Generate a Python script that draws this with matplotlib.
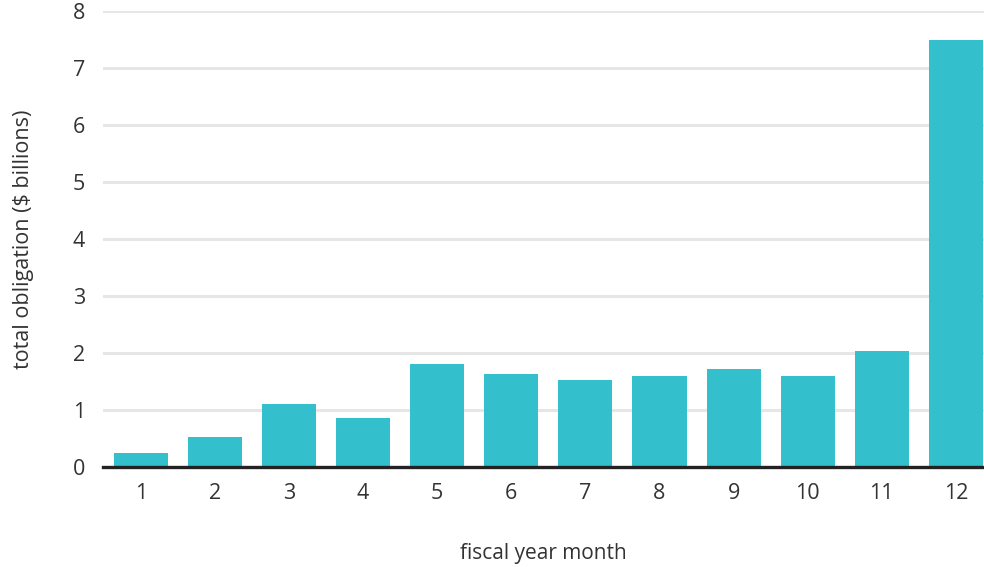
import matplotlib
matplotlib.use('Agg')
from matplotlib import pyplot as plt

months = [1, 2, 3, 4, 5, 6, 7, 8, 9, 10, 11, 12]
obligation = [0.24, 0.52, 1.10, 0.86, 1.80, 1.62, 1.52, 1.60, 1.71, 1.60, 2.03, 7.50]
y_ticks = [0, 1, 2, 3, 4, 5, 6, 7, 8]

plt.rcParams['font.family'] = ['Open Sans', 'DejaVu Sans']

fig = plt.figure(figsize=(9.84, 5.67), dpi=100)
ax = fig.add_axes([0.1047, 0.177, 0.8953, 0.803])

ax.bar(months, obligation, width=0.73, color='#33bfcb', zorder=3)

ax.set_xlim(0.49, 12.38)
ax.set_ylim(0, 8)
ax.set_yticks(y_ticks)
ax.set_xticks(months)
ax.yaxis.grid(True, color='#e6e6e6', linewidth=2.2, zorder=0)
ax.axhline(0, color='#222222', linewidth=2.4, zorder=4, clip_on=False)

for s in ax.spines.values():
    s.set_visible(False)
ax.tick_params(axis='both', length=0, labelsize=15.5, colors='#333333')
ax.tick_params(axis='x', pad=12)
ax.tick_params(axis='y', pad=13)

ax.set_xlabel('fiscal year month', fontsize=15, color='#333333', labelpad=28)
ax.set_ylabel('total obligation ($ billions)', fontsize=15.5, color='#333333', labelpad=28)

fig.savefig('out.png', dpi=100)
plt.close()
